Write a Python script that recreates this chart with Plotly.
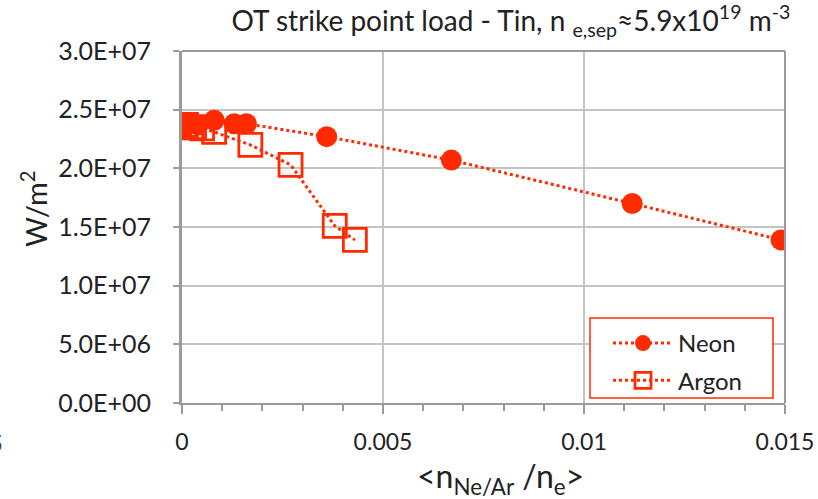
import plotly.graph_objects as go

neon_x = [0.0001, 0.0002, 0.0004, 0.0008, 0.0013, 0.0016, 0.0036, 0.0067, 0.0112, 0.0149]
neon_y = [2.37e7, 2.38e7, 2.37e7, 2.41e7, 2.38e7, 2.38e7, 2.27e7, 2.07e7, 1.70e7, 1.39e7]

argon_x = [0.0001, 0.0003, 0.0005, 0.0008, 0.0017, 0.0027, 0.0038, 0.0043]
argon_y = [2.37e7, 2.35e7, 2.34e7, 2.31e7, 2.20e7, 2.03e7, 1.51e7, 1.39e7]

y_tickvals = [0, 5e6, 1e7, 1.5e7, 2e7, 2.5e7, 3e7]
y_ticktext = ["0.0E+00", "5.0E+06", "1.0E+07", "1.5E+07", "2.0E+07", "2.5E+07", "3.0E+07"]
x_tickvals = [0, 0.005, 0.01, 0.015]
x_ticktext = ["0", "0.005", "0.01", "0.015"]

RED = "#ff2a00"
FONT = "Lato"
TXT = "#222222"
GRID = "#c4c4c4"
AXIS = "#9a9a9a"

W, H = 818, 499
L, R, T, B = 182, 33, 51, 96
PW, PH = W - L - R, H - T - B


def px(p):
    return (p - L) / PW


def py(p):
    return (H - B - p) / PH


fig = go.Figure()
fig.add_trace(go.Scatter(
    x=neon_x, y=neon_y, name="Neon", mode="lines+markers", legendgroup="a",
    line=dict(color=RED, width=3, dash="dot"),
    marker=dict(symbol="circle", size=21, color=RED),
))
fig.add_trace(go.Scatter(
    x=argon_x, y=argon_y, name="Argon", mode="lines+markers", legendgroup="b",
    line=dict(color=RED, width=3, dash="dot"),
    marker=dict(symbol="square-open", size=23, color=RED, line=dict(width=2.8, color=RED)),
))

fig.update_layout(
    width=W, height=H,
    margin=dict(l=L, r=R, t=T, b=B),
    paper_bgcolor="white", plot_bgcolor="white",
    font=dict(family=FONT, color=TXT),
    title=dict(
        text="OT strike point load - Tin, n <sub>e,sep</sub>≈5.9x10<sup>19</sup> m<sup>-3</sup>",
        x=511 / W, xanchor="center", y=1 - 21 / H, yanchor="middle",
        font=dict(size=28, family=FONT, color=TXT),
    ),
    showlegend=True,
    legend=dict(
        x=px(608), y=py(321), xanchor="left", yanchor="top",
        borderwidth=0, bgcolor="rgba(0,0,0,0)",
        font=dict(size=24, family=FONT, color=TXT),
        itemwidth=60, tracegroupgap=3,
    ),
)

fig.update_xaxes(
    range=[0, 0.015], tickvals=x_tickvals, ticktext=x_ticktext,
    showgrid=True, gridcolor=GRID, gridwidth=2,
    showline=True, linecolor=AXIS, linewidth=2,
    ticks="outside", ticklen=9, tickcolor=AXIS, tickwidth=2,
    minor=dict(ticks="outside", dtick=0.001, ticklen=6, tickcolor=AXIS, tickwidth=1.5, showgrid=False),
    tickfont=dict(size=23, family=FONT, color=TXT), ticklabelstandoff=8,
    zeroline=False, automargin=False,
)
fig.update_yaxes(
    range=[0, 3e7], tickvals=y_tickvals, ticktext=y_ticktext,
    showgrid=True, gridcolor=GRID, gridwidth=2,
    showline=True, linecolor=AXIS, linewidth=3,
    ticks="outside", ticklen=6, tickcolor=AXIS, tickwidth=1.5,
    tickfont=dict(size=25, family=FONT, color=TXT), ticklabelstandoff=17,
    zeroline=False, automargin=False,
)

# axis titles placed as in the reference
fig.add_annotation(text="W/m<sup>2</sup>", textangle=-90, xref="paper", yref="paper",
                   x=px(34), y=py(209), xanchor="center", yanchor="middle", showarrow=False,
                   font=dict(size=29, family=FONT, color=TXT))
fig.add_annotation(text="<n<sub>Ne/Ar</sub> /n<sub>e</sub>>", xref="paper", yref="paper",
                   x=px(500), y=py(478), xanchor="center", yanchor="middle", showarrow=False,
                   font=dict(size=32, family=FONT, color=TXT))

# top and right frame lines (plot border)
fig.add_shape(type="line", xref="paper", yref="paper", x0=0, x1=1, y0=1, y1=1,
              line=dict(color=AXIS, width=2))
fig.add_shape(type="line", xref="paper", yref="paper", x0=1, x1=1, y0=0, y1=1,
              line=dict(color=AXIS, width=2))

# legend frame
fig.add_shape(type="rect", xref="paper", yref="paper", layer="above",
              x0=px(590), x1=px(773), y0=py(318), y1=py(398),
              line=dict(color=RED, width=1.5), fillcolor="white")

# stray clipped character at left edge of the picture
fig.add_annotation(text="5", xref="paper", yref="paper", x=px(5), y=py(442),
                   xanchor="right", yanchor="middle", showarrow=False,
                   font=dict(size=24, family=FONT, color="#444444"))

fig.write_html("out.html", config={"displayModeBar": False},
               post_script="document.body.style.margin='0';document.body.style.overflow='hidden';")
